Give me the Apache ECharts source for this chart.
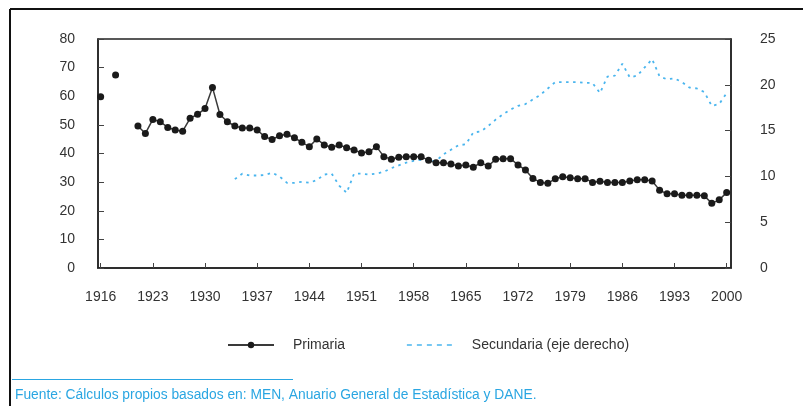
<!DOCTYPE html>
<html><head><meta charset="utf-8">
<script src="https://cdn.jsdelivr.net/npm/echarts@6/dist/echarts.min.js"></script>
<style>html,body{margin:0;padding:0;background:#fff}#c{width:803px;height:406px}</style>
</head><body><div id="c"></div>
<script>
const years = [];
for (let y = 1916; y <= 2000; y++) years.push(y);
const xTickLabels = [1916,1923,1930,1937,1944,1951,1958,1965,1972,1979,1986,1993,2000];
const leftTicks = [0,10,20,30,40,50,60,70,80];
const rightTicks = [0,5,10,15,20,25];
// Primaria: alumnos por docente, 1916-2000 ('-' = sin dato)
const primaria = [59.8,'-',67.4,'-','-',49.6,47.0,51.9,51.1,49.1,
  48.2,47.8,52.3,53.7,55.7,63.1,53.6,51.1,49.6,48.9,
  48.9,48.2,45.9,44.9,46.2,46.7,45.5,43.9,42.4,45.1,
  43.0,42.2,43.0,42.0,41.2,40.2,40.6,42.4,38.9,38.0,
  38.7,38.9,38.9,38.9,37.6,36.8,36.8,36.3,35.6,36.0,
  35.2,36.8,35.6,38.0,38.2,38.2,36.0,34.2,31.3,29.9,
  29.6,31.2,31.9,31.5,31.2,31.2,29.9,30.3,29.9,29.9,
  29.9,30.4,30.8,30.8,30.4,27.2,25.9,25.9,25.4,25.4,
  25.4,25.2,22.6,23.8,26.4];
// Secundaria (eje derecho), 1934-2000
const secYears = [];
for (let y = 1934; y <= 2000; y++) secYears.push(y);
const secundaria = [9.7,10.3,10.1,10.1,10.15,10.4,10.0,9.3,9.3,9.4,
  9.3,9.6,10.2,10.3,9.0,8.2,10.3,10.3,10.2,10.3,
  10.5,10.9,11.2,11.5,11.7,11.8,11.7,11.7,12.4,12.9,
  13.4,13.5,14.8,14.9,15.5,16.2,16.8,17.3,17.7,17.9,
  18.4,18.9,19.6,20.3,20.3,20.3,20.3,20.2,20.2,19.1,
  20.9,21.0,22.3,20.8,21.0,21.9,22.8,20.9,20.6,20.7,
  20.3,19.7,19.6,19.2,17.7,17.9,19.1];
const legendNames = ['Primaria','Secundaria (eje derecho)'];
const sourceText = 'Fuente: Cálculos propios basados en: MEN, Anuario General de Estadística y DANE.';

const FONT = '"Liberation Sans", Arial, sans-serif';
const BLUE = '#2aa6e2';
const SEC = '#4ab5ee';
const chart = echarts.init(document.getElementById('c'), null, {renderer:'canvas'});
chart.setOption({
  animation: false,
  grid: {left: 98, right: 72, top: 39, bottom: 138, show: true, borderColor: '#222', borderWidth: 1.5},
  xAxis: {
    type: 'value', min: 1915.64, max: 2000.58,
    axisLine: {show: true, onZero: false, lineStyle: {color: '#222', width: 1.5}},
    axisTick: {show: true, inside: true, length: 5, customValues: xTickLabels, lineStyle: {color: '#444'}},
    axisLabel: {customValues: xTickLabels, margin: 22, color: '#333', fontSize: 14, fontFamily: FONT,
      formatter: v => String(Math.round(v))},
    splitLine: {show: false}
  },
  yAxis: [{
    type: 'value', min: 0, max: 80, interval: 10,
    axisLine: {show: true, lineStyle: {color: '#222', width: 1.5}},
    axisTick: {show: true, inside: true, length: 6, lineStyle: {color: '#444'}},
    axisLabel: {margin: 23, color: '#333', fontSize: 14, fontFamily: FONT},
    splitLine: {show: false}
  }, {
    type: 'value', min: 0, max: 25, interval: 5, position: 'right',
    axisLine: {show: true, lineStyle: {color: '#222', width: 1.5}},
    axisTick: {show: true, inside: true, length: 6, lineStyle: {color: '#444'}},
    axisLabel: {margin: 29, color: '#333', fontSize: 14, fontFamily: FONT},
    splitLine: {show: false}
  }],
  legend: {
    top: 333, left: 222, itemWidth: 46, itemHeight: 8, itemGap: 61,
    textStyle: {color: '#333', fontSize: 14, fontFamily: FONT, padding: [0,0,0,14]},
    data: [{name: legendNames[0]},
           {name: legendNames[1], itemStyle: {color: 'rgba(0,0,0,0)', borderWidth: 0},
            lineStyle: {color: SEC, type: [5,5], width: 1.5}}]
  },
  series: [{
    name: legendNames[0], type: 'line', yAxisIndex: 0,
    data: years.map((y,i) => [y, primaria[i]]),
    symbol: 'circle', symbolSize: 7, showAllSymbol: true, connectNulls: false,
    itemStyle: {color: '#1a1a1a'},
    lineStyle: {color: '#3a3a3a', width: 1.5}
  }, {
    name: legendNames[1], type: 'line', yAxisIndex: 1,
    data: secYears.map((y,i) => [y, secundaria[i]]),
    symbol: 'none',
    itemStyle: {color: SEC},
    lineStyle: {color: SEC, width: 1.8, type: [2.5,4.5]}
  }],
  graphic: [
    {type: 'line', shape: {x1: 10, y1: 9, x2: 803, y2: 9}, style: {stroke: '#111', lineWidth: 2}},
    {type: 'line', shape: {x1: 10, y1: 9, x2: 10, y2: 406}, style: {stroke: '#111', lineWidth: 2}},
    {type: 'line', shape: {x1: 12, y1: 379.5, x2: 293, y2: 379.5}, style: {stroke: BLUE, lineWidth: 1}},
    {type: 'text', left: 15, top: 388, style: {text: sourceText, fill: BLUE, fontSize: 13.8, fontFamily: FONT}}
  ]
});
</script></body></html>
